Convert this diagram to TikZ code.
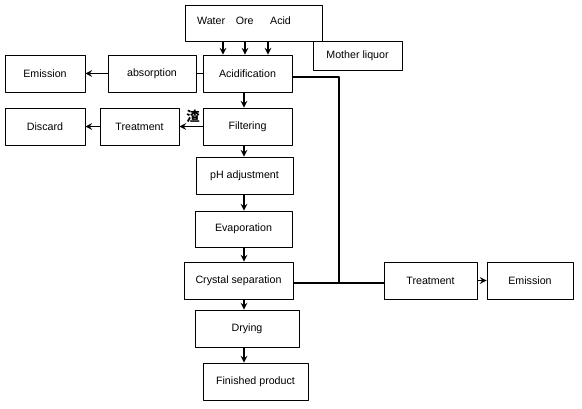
\documentclass[tikz,border=0pt]{standalone}
\usepackage{fontspec}
\setmainfont{Liberation Sans}
\newfontfamily\cjk{Noto Sans CJK SC}
\tikzset{blk/.style={draw, line width=0.7pt, inner sep=0pt, minimum height=27.75pt},
         flow/.style={->, line width=1.2pt}}
\begin{document}
\begin{tikzpicture}[x=0.75pt, y=-0.75pt, font=\fontsize{8}{9.6}\selectfont, line join=round, >=stealth]
            \useasboundingbox (0,0) rectangle (582,409);
            \node[blk, minimum width=102.75pt, minimum height=27pt] (feed) at (253.5,23) {};
            \node at (244,21) {Water\quad Ore\quad\ \ Acid};
            \node[blk, minimum width=66.75pt, minimum height=21.75pt] (mother) at (357.5,55.5) {Mother liquor};
            \node[blk, minimum width=60pt] (emisA) at (45,73.5) {Emission};
            \node[blk, minimum width=66pt] (absorb) at (152,73.5) {absorption};
            \node[blk, minimum width=66.75pt] (acidif) at (247.5,73.5) {Acidification};
            \node[blk, minimum width=60pt] (discard) at (45,126.5) {Discard};
            \node[blk, minimum width=59.25pt] (treatA) at (139.5,126.5) {Treatment};
            \node[blk, minimum width=66.75pt] (filter) at (247.5,126.5) {Filtering};
            \node[blk, minimum width=72.75pt] (phadj) at (244.5,175.5) {pH adjustment};
            \node[blk, minimum width=72.75pt, minimum height=27pt] (evap) at (243.5,229) {Evaporation};
            \node[blk, minimum width=81.75pt] (cryst) at (238.5,280.5) {Crystal separation};
            \node[blk, minimum width=78pt] (dry) at (247,328.5) {Drying};
            \node[blk, minimum width=78.75pt] (product) at (255.5,381.5) {Finished product};
            \node[blk, minimum width=69.75pt] (treatB) at (430.5,280.5) {Treatment};
            \node[blk, minimum width=64.5pt] (emisB) at (530,280.5) {Emission};
            \node[font=\cjk\fontsize{10}{10}\selectfont\bfseries] (slag) at (193,116) {渣};
            \coordinate (spine) at (244,0);
            \coordinate (bend) at (339,77);
            \coordinate (joint) at (339,283);
            % feeds into acidification
            \foreach \x in {223,245,268}\draw[flow] (feed.south -| \x,0)--(acidif.north -| \x,0);
            % main line
            \draw[flow] (acidif.south -| spine)--(filter.north -| spine);
            \draw[flow] (filter.south -| spine)--(phadj.north -| spine);
            \draw[flow] (phadj.south -| spine)--(evap.north -| spine);
            \draw[flow] (evap.south -| spine)--(cryst.north -| spine);
            \draw[flow] (cryst.south -| spine)--(dry.north -| spine);
            \draw[flow] (dry.south -| spine)--(product.north -| spine);
            % side streams
            \draw[line width=0.7pt] (acidif)--(absorb);
            \draw[flow] (absorb)--(emisA);
            \draw[flow] (filter)--(treatA);
            \draw[flow] (treatA)--(discard);
            \draw[line width=1.2pt] (acidif.east |- bend)--(bend)--(joint);
            \draw[line width=1.2pt] (cryst.east |- joint)--(treatB.west |- joint);
            \draw[flow] (treatB)--(emisB);
        \end{tikzpicture}
\end{document}
